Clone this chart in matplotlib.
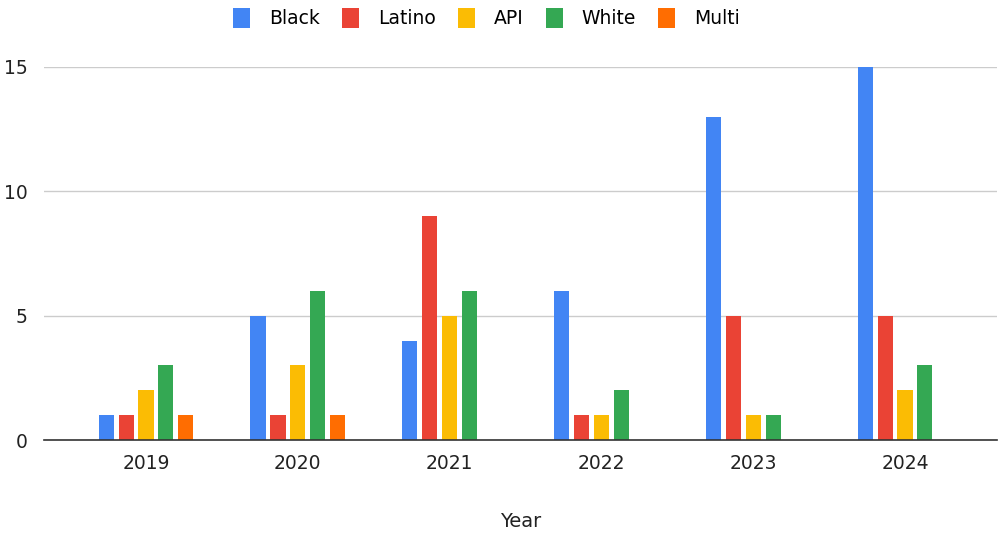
import matplotlib.pyplot as plt
import numpy as np

years = ['2019', '2020', '2021', '2022', '2023', '2024']
series_names = ['Black', 'Latino', 'API', 'White', 'Multi']
black = [1, 5, 4, 6, 13, 15]
latino = [1, 1, 9, 1, 5, 5]
api = [2, 3, 5, 1, 1, 2]
white = [3, 6, 6, 2, 1, 3]
multi = [1, 1, 0, 0, 0, 0]
colors = ['#4285F4', '#EA4335', '#FBBC04', '#34A853', '#FF6D01']

plt.rcParams['font.family'] = ['DejaVu Sans']

fig = plt.figure(figsize=(9.98, 5.35), dpi=100)
ax = fig.add_axes([44 / 998, 1 - 440 / 535, 953 / 998, 373 / 535])

x = np.arange(len(years))
step = 0.131
width = 0.1
for i, (vals, name) in enumerate(zip([black, latino, api, white, multi], series_names)):
    ax.bar(x + (i - 2) * step, vals, width, color=colors[i], label=name, zorder=3)

ax.set_xlim(-0.672, 5.606)
ax.set_ylim(0, 15)
ax.set_yticks([0, 5, 10, 15])
ax.grid(axis='y', color='#cccccc', linewidth=1, zorder=0)
ax.set_xticks(x)
ax.set_xticklabels(years)
ax.tick_params(axis='both', length=0, labelsize=13.5, colors='#222222')
ax.tick_params(axis='y', pad=12)
ax.tick_params(axis='x', pad=10)
for side in ['top', 'right', 'left']:
    ax.spines[side].set_visible(False)
ax.spines['bottom'].set_color('#333333')
ax.spines['bottom'].set_linewidth(1.2)
ax.spines['bottom'].set_zorder(4)
ax.set_xlabel('Year', fontsize=14, color='#222222', labelpad=28)

fig.legend(loc='center', bbox_to_anchor=(0.4875, 1 - 18 / 535), ncol=5, frameon=False,
           fontsize=13.5, handlelength=0.9, handleheight=1.3, handletextpad=1.0,
           columnspacing=1.2)

fig.savefig('out.png', dpi=100)
